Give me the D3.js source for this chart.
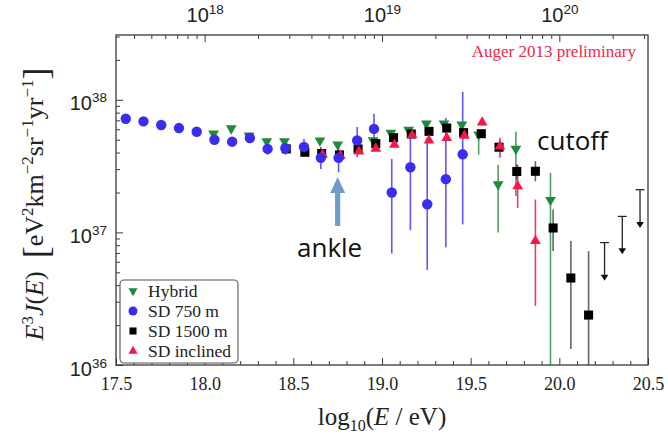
<!DOCTYPE html>
<html>
<head>
<meta charset="utf-8">
<script src="https://cdn.jsdelivr.net/npm/d3@7"></script>
<style>
  body { margin: 0; background: #fff; }
  svg { display: block; font-family: "Liberation Serif", "DejaVu Serif", serif; }
</style>
</head>
<body>
<svg id="chart" width="668" height="438"></svg>
<script>
// ---- Auger spectrum, E^3 J(E) in eV^2 km^-2 sr^-1 yr^-1 ----

// SD 750 m
const sd750LogE = [17.555, 17.655, 17.755, 17.855, 17.955, 18.055, 18.155, 18.255, 18.355, 18.455,
                   18.56, 18.655, 18.755, 18.86, 18.955, 19.055, 19.16, 19.255, 19.36, 19.455];
const sd750Flux = [7.19e37, 6.87e37, 6.46e37, 6.12e37, 5.74e37, 5.00e37, 4.83e37, 5.15e37, 4.26e37, 4.31e37,
                   4.41e37, 3.65e37, 3.65e37, 4.94e37, 6.03e37, 2.00e37, 3.10e37, 1.63e37, 2.52e37, 3.88e37];
const sd750Hi   = [7.19e37, 6.87e37, 6.46e37, 6.12e37, 5.74e37, 5.00e37, 4.83e37, 5.15e37, 4.59e37, 4.78e37,
                   5.07e37, 4.41e37, 4.67e37, 6.24e37, 7.85e37, 3.58e37, 5.27e37, 5.18e37, 7.28e37, 1.15e38];
const sd750Lo   = [7.19e37, 6.87e37, 6.46e37, 6.12e37, 5.74e37, 5.00e37, 4.83e37, 5.15e37, 3.86e37, 3.86e37,
                   3.86e37, 3.01e37, 2.84e37, 3.71e37, 4.59e37, 6.92e36, 1.04e37, 5.21e36, 7.74e36, 1.15e37];

// Hybrid
const hybridLogE = [18.05, 18.15, 18.25, 18.35, 18.45, 18.65, 18.75, 18.95, 19.05, 19.15,
                    19.25, 19.35, 19.45, 19.545, 19.655, 19.755, 19.95];
const hybridFlux = [5.55e37, 6.08e37, 5.36e37, 4.86e37, 4.86e37, 4.92e37, 4.59e37, 4.94e37, 5.62e37, 5.94e37,
                    6.61e37, 6.61e37, 6.49e37, 5.46e37, 2.30e37, 4.26e37, 1.75e37];
const hybridHi   = [5.55e37, 6.08e37, 5.36e37, 4.86e37, 4.86e37, 4.92e37, 4.59e37, 4.94e37, 5.62e37, 5.94e37,
                    6.61e37, 6.61e37, 6.49e37, 5.90e37, 3.24e37, 5.74e37, 2.81e37];
const hybridLo   = [5.55e37, 6.08e37, 5.36e37, 4.86e37, 4.86e37, 4.92e37, 4.59e37, 4.94e37, 5.62e37, 5.94e37,
                    6.61e37, 6.61e37, 6.49e37, 3.86e37, 1.00e37, 1.88e37, 5.0e35];

// SD 1500 m
const sd1500LogE = [18.46, 18.565, 18.66, 18.76, 18.865, 18.965, 19.065, 19.165, 19.265, 19.365,
                    19.46, 19.56, 19.66, 19.76, 19.865, 19.965, 20.065, 20.165];
const sd1500Flux = [4.26e37, 4.02e37, 3.93e37, 3.84e37, 4.26e37, 4.67e37, 5.18e37, 5.52e37, 5.78e37, 6.12e37,
                    5.65e37, 5.55e37, 4.39e37, 2.88e37, 2.89e37, 1.08e37, 4.53e36, 2.38e36];
const sd1500Hi   = [4.26e37, 4.02e37, 3.93e37, 3.84e37, 4.26e37, 4.67e37, 5.18e37, 5.52e37, 5.78e37, 6.12e37,
                    5.65e37, 5.55e37, 4.39e37, 3.24e37, 3.44e37, 1.49e37, 8.61e36, 7.23e36];
const sd1500Lo   = [4.26e37, 4.02e37, 3.93e37, 3.84e37, 4.26e37, 4.67e37, 5.18e37, 5.52e37, 5.78e37, 6.12e37,
                    5.65e37, 5.55e37, 4.39e37, 2.50e37, 2.43e37, 7.23e36, 1.32e36, 9.0e35];

// SD 1500 m upper limits
const limitLogE = [20.255, 20.355, 20.455];
const limitCap  = [8.38e36, 1.32e37, 2.10e37];
const limitTip  = [4.31e36, 6.84e36, 1.08e37];

// SD inclined
const inclLogE = [18.665, 18.765, 18.87, 18.965, 19.07, 19.17, 19.265, 19.365, 19.465, 19.565,
                  19.665, 19.765, 19.865];
const inclFlux = [3.86e37, 3.79e37, 4.08e37, 4.29e37, 4.59e37, 5.40e37, 4.94e37, 5.15e37, 5.37e37, 6.75e37,
                  4.46e37, 2.23e37, 8.61e36];
const inclHi   = [3.86e37, 3.79e37, 4.08e37, 4.29e37, 4.59e37, 5.40e37, 4.94e37, 5.15e37, 5.37e37, 7.10e37,
                  5.18e37, 3.24e37, 1.77e37];
const inclLo   = [3.86e37, 3.79e37, 4.08e37, 4.29e37, 4.59e37, 5.40e37, 4.94e37, 5.15e37, 5.37e37, 6.40e37,
                  3.66e37, 1.53e37, 2.79e36];

// Axis tick labels
const xTickLabels = ["17.5", "18.0", "18.5", "19.0", "19.5", "20.0", "20.5"];
const yTickExponents = [36, 37, 38];
const topTickExponents = [18, 19, 20];
const legendLabels = ["Hybrid", "SD 750 m", "SD 1500 m", "SD inclined"];

// ---- layout ----
const svg = d3.select("#chart");
const plot = { left: 116, right: 648, top: 35, bottom: 365 };

const x = d3.scaleLinear().domain([17.5, 20.5]).range([plot.left, plot.right]);
const y = d3.scaleLog().domain([1e36, 3.08e38]).range([plot.bottom, plot.top]);
const xTop = d3.scaleLog().domain([10 ** 17.5, 10 ** 20.5]).range([plot.left, plot.right]);

const COL = {
  hybrid: "#1f8a3b",
  sd750: "#3b2df0",
  sd1500: "#000000",
  incl: "#f5164a",
  frame: "#3a3a3a"
};

svg.append("rect").attr("width", 668).attr("height", 438).attr("fill", "#fff");

svg.append("defs").append("clipPath").attr("id", "plotClip")
  .append("rect")
  .attr("x", plot.left).attr("y", plot.top)
  .attr("width", plot.right - plot.left).attr("height", plot.bottom - plot.top);

// ---- axes ----
function styleAxis(g) {
  g.select(".domain").remove();
  g.selectAll(".tick line").attr("stroke", COL.frame).attr("stroke-width", 1);
  g.selectAll(".tick text").attr("fill", "#222");
}

// bottom: minor every 0.1, major every 0.5
const xMajor = xTickLabels.map(Number);
const xMinor = x.ticks(30).filter(v => !xMajor.some(m => Math.abs(m - v) < 1e-6));
svg.append("g").attr("transform", `translate(0,${plot.bottom})`)
  .call(d3.axisBottom(x).tickValues(xMinor).tickSize(-4).tickFormat(""))
  .call(styleAxis);
svg.append("g").attr("transform", `translate(0,${plot.bottom})`)
  .call(d3.axisBottom(x).tickValues(xMajor).tickSize(-7).tickPadding(12)
    .tickFormat((d, i) => xTickLabels[i]))
  .call(styleAxis)
  .call(g => g.selectAll(".tick text").attr("font-size", 18).attr("font-family", "Liberation Serif, serif"));

// left: log ticks
const yMajor = yTickExponents.map(e => 10 ** e);
const yMinor = y.ticks().filter(v => !yMajor.some(m => Math.abs(v / m - 1) < 1e-9));
svg.append("g").attr("transform", `translate(${plot.left},0)`)
  .call(d3.axisLeft(y).tickValues(yMinor).tickSize(-4).tickFormat(""))
  .call(styleAxis);
svg.append("g").attr("transform", `translate(${plot.left},0)`)
  .call(d3.axisLeft(y).tickValues(yMajor).tickSize(-7).tickPadding(9).tickFormat(""))
  .call(styleAxis)
  .call(g => g.selectAll(".tick").each(function (d, i) {
    const t = d3.select(this).select("text")
      .attr("font-size", 20).attr("dy", "0.5em").attr("text-anchor", "end");
    t.append("tspan").text("10");
    t.append("tspan").attr("font-size", 13.5).attr("dy", -8).text(yTickExponents[i]);
  }));

// top: energy in eV, log ticks
const topMajor = topTickExponents.map(e => 10 ** e);
const topMinor = xTop.ticks().filter(v => !topMajor.some(m => Math.abs(v / m - 1) < 1e-9));
svg.append("g").attr("transform", `translate(0,${plot.top})`)
  .call(d3.axisTop(xTop).tickValues(topMinor).tickSize(-4).tickFormat(""))
  .call(styleAxis);
svg.append("g").attr("transform", `translate(0,${plot.top})`)
  .call(d3.axisTop(xTop).tickValues(topMajor).tickSize(-7).tickPadding(13).tickFormat(""))
  .call(styleAxis)
  .call(g => g.selectAll(".tick").each(function (d, i) {
    const t = d3.select(this).select("text").attr("font-size", 20).attr("dy", "0em");
    t.append("tspan").text("10");
    t.append("tspan").attr("font-size", 13.5).attr("dy", -8).text(topTickExponents[i]);
  }));

// frame
svg.append("rect")
  .attr("x", plot.left).attr("y", plot.top)
  .attr("width", plot.right - plot.left).attr("height", plot.bottom - plot.top)
  .attr("fill", "none").attr("stroke", COL.frame).attr("stroke-width", 1.3);

// ---- axis titles ----
const xTitle = svg.append("text")
  .attr("x", x(19.0)).attr("y", 425)
  .attr("text-anchor", "middle").attr("font-size", 25).attr("fill", "#222");
xTitle.append("tspan").text("log");
xTitle.append("tspan").attr("font-size", 16).attr("dy", 6).text("10");
xTitle.append("tspan").attr("dy", -6).text("(");
xTitle.append("tspan").attr("font-style", "italic").text("E");
xTitle.append("tspan").text(" / eV)");

const yTitle = svg.append("text")
  .attr("transform", "translate(43,204) rotate(-90)")
  .attr("text-anchor", "middle").attr("font-size", 26).attr("fill", "#222");
const yParts = [
  { t: "E", it: true }, { t: "3", sup: true }, { t: "J", it: true }, { t: "(" }, { t: "E", it: true }, { t: ")" },
  { t: "\u2002" }, { t: "[", big: true },
  { t: "eV" }, { t: "2", sup: true }, { t: "km" }, { t: "\u22122", sup: true },
  { t: "sr" }, { t: "\u22121", sup: true }, { t: "yr" }, { t: "\u22121", sup: true },
  { t: "]", big: true }
];
let shift = 0;
yParts.forEach(p => {
  const ts = yTitle.append("tspan").text(p.t);
  let target = 0;
  if (p.sup) { ts.attr("font-size", 17); target = -10; }
  if (p.big) { ts.attr("font-size", 36); target = 5; }
  if (p.it) ts.attr("font-style", "italic");
  if (target !== shift) { ts.attr("dy", target - shift); shift = target; }
});

// ---- marks ----
const area = svg.append("g").attr("clip-path", "url(#plotClip)");

function zip(E, F, H, L) {
  return E.map((e, i) => ({ e, f: F[i], hi: H[i], lo: L[i] }));
}
const hybrid = zip(hybridLogE, hybridFlux, hybridHi, hybridLo);
const sd750 = zip(sd750LogE, sd750Flux, sd750Hi, sd750Lo);
const sd1500 = zip(sd1500LogE, sd1500Flux, sd1500Hi, sd1500Lo);
const incl = zip(inclLogE, inclFlux, inclHi, inclLo);

function errorBars(data, color, width, opacity) {
  area.append("g").selectAll("line")
    .data(data.filter(d => d.hi !== d.lo))
    .join("line")
    .attr("x1", d => x(d.e)).attr("x2", d => x(d.e))
    .attr("y1", d => y(d.hi)).attr("y2", d => y(d.lo))
    .attr("stroke", color).attr("stroke-width", width).attr("opacity", opacity);
}

const triDown = d3.symbol().type(d3.symbolTriangle).size(50);
const triUp = d3.symbol().type(d3.symbolTriangle).size(50);
const square = d3.symbol().type(d3.symbolSquare).size(82);

errorBars(hybrid, COL.hybrid, 1.6, 0.8);
errorBars(sd1500, "#333", 1.6, 0.75);
errorBars(incl, COL.incl, 1.6, 0.85);
errorBars(sd750, COL.sd750, 1.6, 0.8);

// upper limits
const limits = limitLogE.map((e, i) => ({ e, cap: limitCap[i], tip: limitTip[i] }));
const lim = area.append("g");
lim.selectAll(".cap").data(limits).join("line")
  .attr("x1", d => x(d.e) - 4.5).attr("x2", d => x(d.e) + 4.5)
  .attr("y1", d => y(d.cap)).attr("y2", d => y(d.cap))
  .attr("stroke", "#222").attr("stroke-width", 1.2);
lim.selectAll(".stem").data(limits).join("line")
  .attr("x1", d => x(d.e)).attr("x2", d => x(d.e))
  .attr("y1", d => y(d.cap)).attr("y2", d => y(d.tip) - 4)
  .attr("stroke", "#222").attr("stroke-width", 1.3);
lim.selectAll("path").data(limits).join("path")
  .attr("d", d => {
    const cx = x(d.e), ty = y(d.tip);
    return `M${cx - 3.8},${ty - 6}L${cx + 3.8},${ty - 6}L${cx},${ty}Z`;
  })
  .attr("fill", "#111");

area.append("g").selectAll("path").data(hybrid).join("path")
  .attr("d", triDown)
  .attr("transform", d => `translate(${x(d.e)},${y(d.f)}) rotate(180)`)
  .attr("fill", COL.hybrid);

area.append("g").selectAll("path").data(sd1500).join("path")
  .attr("d", square)
  .attr("transform", d => `translate(${x(d.e)},${y(d.f)})`)
  .attr("fill", COL.sd1500);

area.append("g").selectAll("path").data(incl).join("path")
  .attr("d", triUp)
  .attr("transform", d => `translate(${x(d.e)},${y(d.f)})`)
  .attr("fill", COL.incl);

area.append("g").selectAll("circle").data(sd750).join("circle")
  .attr("cx", d => x(d.e)).attr("cy", d => y(d.f)).attr("r", 5.2)
  .attr("fill", COL.sd750);

// ---- annotations ----
svg.append("text")
  .attr("x", 636).attr("y", 57).attr("text-anchor", "end")
  .attr("font-size", 17).attr("fill", "#f0284a")
  .text("Auger 2013 preliminary");

const ankleX = x(18.75);
const ankle = svg.append("g");
ankle.append("rect")
  .attr("x", ankleX - 2.6).attr("y", 191).attr("width", 5.2).attr("height", 35)
  .attr("fill", "#6f9bc6");
ankle.append("path")
  .attr("d", `M${ankleX - 7.5},193L${ankleX},177L${ankleX + 7.5},193Z`)
  .attr("fill", "#6f9bc6");

svg.append("text")
  .attr("x", 297).attr("y", 257)
  .attr("font-family", "'Open Sans', sans-serif").attr("font-size", 26).attr("fill", "#111")
  .text("ankle");
svg.append("text")
  .attr("x", 537).attr("y", 150)
  .attr("font-family", "'Open Sans', sans-serif").attr("font-size", 26).attr("fill", "#111")
  .text("cutoff");

// ---- legend ----
const lg = svg.append("g");
lg.append("rect")
  .attr("x", 120).attr("y", 280).attr("width", 118).attr("height", 83).attr("rx", 4)
  .attr("fill", "#fff").attr("stroke", "#555").attr("stroke-width", 1.1);
const legendMarks = [
  g => g.append("path").attr("d", d3.symbol().type(d3.symbolTriangle).size(36)).attr("transform", "rotate(180)").attr("fill", COL.hybrid),
  g => g.append("circle").attr("r", 4.5).attr("fill", COL.sd750),
  g => g.append("path").attr("d", d3.symbol().type(d3.symbolSquare).size(50)).attr("fill", COL.sd1500),
  g => g.append("path").attr("d", d3.symbol().type(d3.symbolTriangle).size(36)).attr("fill", COL.incl)
];
legendLabels.forEach((lab, i) => {
  const row = lg.append("g").attr("transform", `translate(0,${291 + i * 20})`);
  legendMarks[i](row.append("g").attr("transform", "translate(133,0)"));
  row.append("text").attr("x", 148).attr("y", 5.5).attr("font-size", 17.5).attr("fill", "#222").text(lab);
});
</script>
</body>
</html>
